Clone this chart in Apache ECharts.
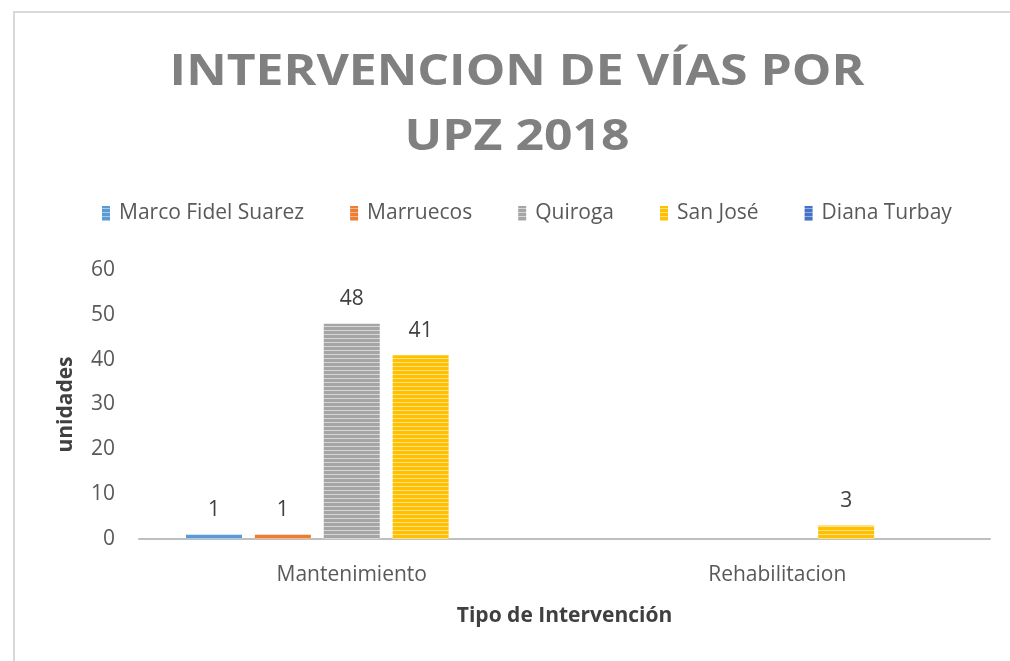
<!DOCTYPE html>
<html>
<head>
<meta charset="utf-8">
<title>Intervencion de vías por UPZ 2018</title>
<script src="https://cdn.jsdelivr.net/npm/echarts@6/dist/echarts.min.js"></script>
<style>
  html, body { margin: 0; padding: 0; background: #fff; overflow: hidden; }
  #chart { width: 1010px; height: 661px; }
</style>
</head>
<body>
<div id="chart"></div>
<script>
// datos
const categories = ['Mantenimiento', 'Rehabilitacion'];
const seriesNames = ['Marco Fidel Suarez', 'Marruecos', 'Quiroga', 'San José', 'Diana Turbay'];
const marcoFidelSuarez = [1, null];
const marruecos = [1, null];
const quiroga = [48, null];
const sanJose = [41, 3];
const dianaTurbay = [null, null];
const yMin = 0, yMax = 60, yStep = 10;

const seriesData = [marcoFidelSuarez, marruecos, quiroga, sanJose, dianaTurbay];
const baseColors = ['#5b9bd5', '#ed7d31', '#a5a5a5', '#ffc000', '#4472c4'];
const lightColors = ['#a9c9e8', '#f5b690', '#d6d6d6', '#ffe08a', '#93acdd'];

// relleno rayado horizontal, como en el original
function stripes(base, light) {
  const c = document.createElement('canvas');
  c.width = 4; c.height = 4;
  const ctx = c.getContext('2d');
  ctx.fillStyle = base;
  ctx.fillRect(0, 0, 4, 4);
  ctx.fillStyle = light;
  ctx.fillRect(0, 2, 4, 1);
  return { image: c, repeat: 'repeat' };
}

const chart = echarts.init(document.getElementById('chart'));
const font = '"Open Sans", "Noto Sans", sans-serif';

chart.setOption({
  animation: false,
  textStyle: { fontFamily: font },
  graphic: [{
    // marco del grafico: solo se ven los bordes superior e izquierdo
    type: 'line',
    shape: { x1: 14, y1: 12, x2: 1010, y2: 12 },
    style: { stroke: '#d9d9d9', lineWidth: 2 },
    silent: true
  }, {
    type: 'line',
    shape: { x1: 14, y1: 11, x2: 14, y2: 661 },
    style: { stroke: '#d9d9d9', lineWidth: 2 },
    silent: true
  }, {
    // titulo un poco estirado a lo ancho, como en el original
    type: 'text',
    x: 517,
    y: 40,
    scaleX: 1.16,
    style: {
      text: 'INTERVENCION DE VÍAS POR\nUPZ 2018',
      fontFamily: font,
      fontSize: 43,
      fontWeight: 'bold',
      fill: '#808080',
      lineHeight: 65,
      align: 'center',
      verticalAlign: 'top'
    },
    silent: true
  }],
  legend: {
    top: 198,
    left: 97,
    itemWidth: 8,
    itemHeight: 15,
    itemGap: 46,
    icon: 'rect',
    textStyle: { fontFamily: font, fontSize: 21, color: '#595959', padding: [0, 0, 0, 4] },
    data: seriesNames
  },
  grid: { left: 139, right: 20, top: 270, bottom: 122 },
  xAxis: {
    type: 'category',
    data: categories,
    name: 'Tipo de Intervención',
    nameLocation: 'middle',
    nameGap: 67,
    nameTextStyle: { fontFamily: font, fontSize: 21, fontWeight: 'bold', color: '#404040' },
    axisLine: { lineStyle: { color: '#bfbfbf', width: 2 } },
    axisTick: { show: false },
    axisLabel: { fontFamily: font, fontSize: 21, color: '#595959', margin: 26 }
  },
  yAxis: {
    type: 'value',
    min: yMin,
    max: yMax,
    interval: yStep,
    name: 'unidades',
    nameLocation: 'middle',
    nameGap: 62,
    nameTextStyle: { fontFamily: font, fontSize: 21, fontWeight: 'bold', color: '#404040' },
    axisLine: { show: false },
    axisTick: { show: false },
    splitLine: { show: false },
    axisLabel: { fontFamily: font, fontSize: 21, color: '#595959', margin: 24 }
  },
  series: seriesNames.map((name, i) => ({
    name: name,
    type: 'bar',
    data: seriesData[i],
    barWidth: 56,
    barGap: '23%',
    itemStyle: { color: stripes(baseColors[i], lightColors[i]) },
    label: {
      show: true,
      position: 'top',
      distance: 14,
      fontFamily: font,
      fontSize: 21,
      color: '#404040'
    }
  }))
});
</script>
</body>
</html>
